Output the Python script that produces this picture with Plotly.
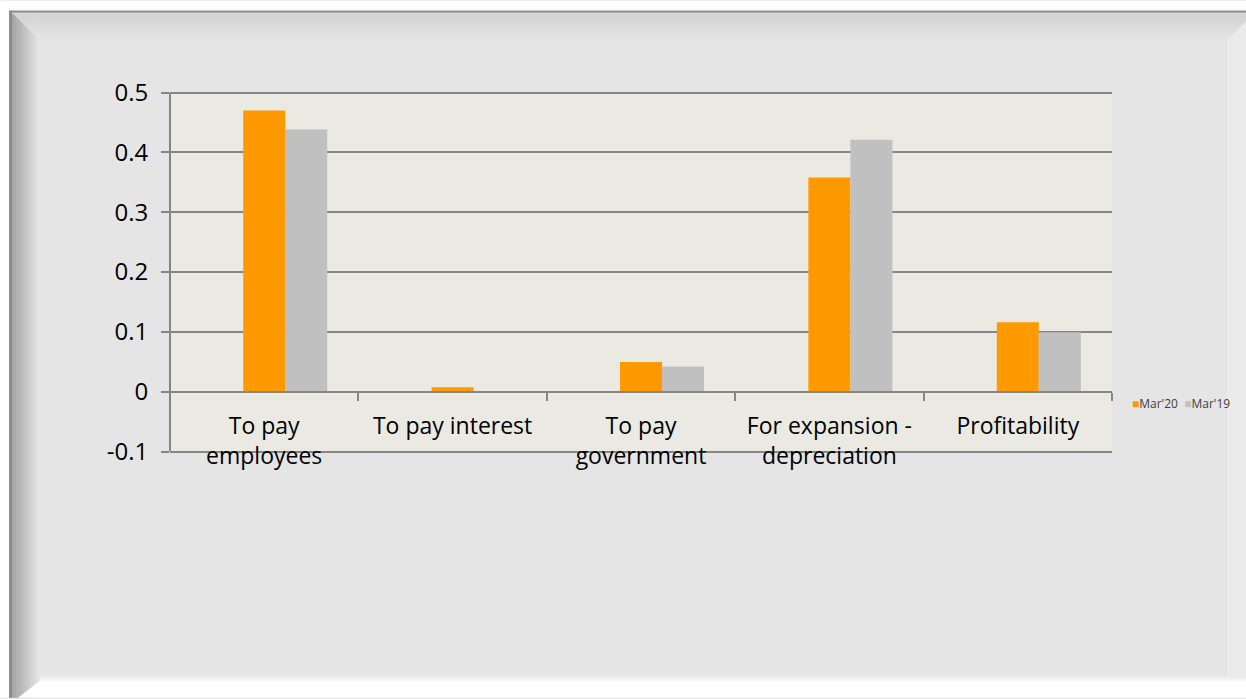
import plotly.graph_objects as go

# ---- data ----
categories = ["To pay<br>employees", "To pay interest", "To pay<br>government",
              "For expansion -<br>depreciation", "Profitability"]
series_names = ["Mar'20", "Mar'19"]
mar20 = [0.470, 0.0073, 0.0495, 0.358, 0.116]
mar19 = [0.438, 0.0, 0.042, 0.421, 0.0995]
y_tick_vals = [-0.1, 0.0, 0.1, 0.2, 0.3, 0.4, 0.5]
y_tick_text = ["-0.1", "0", "0.1", "0.2", "0.3", "0.4", "0.5"]

# ---- style ----
W, H = 1246, 699
Y_MIN, Y_MAX = -0.1025, 0.5025
PX_PER_UNIT = 600.0
ML, MR = 170, 134
MT = 92 - (Y_MAX - 0.5) * PX_PER_UNIT
PH = (Y_MAX - Y_MIN) * PX_PER_UNIT
MB = H - MT - PH
PW = W - ML - MR
colors = ["#FF9900", "#C0C0C0"]
FONT = "Open Sans"


def px(x):
    return (x - ML) / PW


def py(y):
    return 1 - (y - MT) / PH


def path(points):
    s = "M " + " L ".join(f"{px(a):.5f},{py(b):.5f}" for a, b in points) + " Z"
    return s


shapes = []


def poly(points, color):
    shapes.append(dict(type="path", xref="paper", yref="paper", path=path(points),
                       fillcolor=color, line=dict(width=0), layer="below"))


def lerp_col(c1, c2, t):
    return "rgb({},{},{})".format(*[round(a + (b - a) * t) for a, b in zip(c1, c2)])


BG = (229, 229, 229)
# white surroundings
poly([(0, 0), (W, 0), (W, 9), (0, 9)], "#ffffff")
poly([(0, 0), (9, 0), (9, H), (0, H)], "#ffffff")
# right bevel (light)
poly([(1227, 40), (W, 21), (W, 682), (1227, 682)], "#ebebeb")
# left bevel gradient
n = 13
for i in range(n):
    x0 = 12 + i * 28 / n
    x1 = 12 + (i + 1) * 28 / n
    poly([(x0, 12), (x1 + 0.5, 12), (x1 + 0.5, H), (x0, H)],
         lerp_col((165, 165, 165), BG, i / (n - 1)))
# top bevel gradient
for i in range(n):
    y0 = 12 + i * 28 / n
    y1 = 12 + (i + 1) * 28 / n + 0.5
    poly([(y0, y0), (min(W, 1267 - y0), y0), (min(W, 1267 - y1), y1), (y1, y1)],
         lerp_col((210, 210, 210), BG, i / (n - 1)))
# bottom highlight
for i in range(4):
    yy = 676 + i * 1.5
    poly([(40, yy), (W, yy), (W, yy + 1.6), (40, yy + 1.6)],
         lerp_col(BG, (250, 250, 250), (i + 1) / 5))
poly([(40, 682), (W, 682), (W, H), (18, H)], "#ffffff")
# outer border lines
poly([(9, 10), (W, 10), (W, 12), (9, 12)], "#8c8c8c")
poly([(9, 10), (12, 10), (12, H), (9, H)], "#8c8c8c")
poly([(12, 12), (W, 12), (W, 13), (12, 13)], "#d9d9d9")
# plot-area background exactly spanning -0.1 .. 0.5 (drawn in margin-safe coords)
poly([(ML, 92), (ML + PW, 92), (ML + PW, 452), (ML, 452)], "#EBEAE2")

fig = go.Figure()
offsets = [-0.1115, 0.1115]
for name, vals, col, off in zip(series_names, [mar20, mar19], colors, offsets):
    fig.add_trace(go.Bar(x=categories, y=vals, name=name, marker_color=col,
                         marker_line=dict(width=0), width=0.223, offset=off,
                         showlegend=False))

legend_text = "  ".join(
    f'<span style="color:{c}">■</span>{n}' for n, c in zip(series_names, colors))

fig.update_layout(
    width=W, height=H,
    margin=dict(l=ML, r=MR, t=MT, b=MB, pad=0),
    paper_bgcolor="rgb(229,229,229)",
    plot_bgcolor="rgba(0,0,0,0)",
    barmode="overlay",
    font=dict(family=FONT, color="#000000"),
    shapes=shapes,
    annotations=[dict(text=legend_text, xref="paper", yref="paper",
                      x=px(1130), y=py(404), xanchor="left", yanchor="middle",
                      showarrow=False, font=dict(size=12, color="#404040", family=FONT))],
    xaxis=dict(
        type="category", anchor="free", position=(0 - Y_MIN) / (Y_MAX - Y_MIN),
        showline=True, linecolor="#868686", linewidth=2,
        ticks="outside", tickson="boundaries", ticklen=8, tickwidth=2, tickcolor="#868686",
        tickfont=dict(size=23, family=FONT, color="#000000"),
        ticklabelstandoff=14,
        showgrid=False, range=[-0.5, 4.5], fixedrange=True,
    ),
    yaxis=dict(
        range=[Y_MIN, Y_MAX], tickvals=y_tick_vals, ticktext=y_tick_text,
        showline=False,
        ticks="outside", ticklen=8, tickwidth=2, tickcolor="#868686",
        showgrid=True, gridcolor="#868686", gridwidth=2, zeroline=False,
        tickfont=dict(size=24, family=FONT, color="#000000"),
        ticklabelstandoff=8,
    ),
)
# y-axis line spanning exactly -0.1 .. 0.5
shapes.append(dict(type="line", xref="paper", yref="y", x0=0, x1=0,
                   y0=y_tick_vals[0], y1=y_tick_vals[-1],
                   line=dict(color="#868686", width=2), layer="above"))
fig.update_layout(shapes=shapes)

fig.write_html("out.html")
